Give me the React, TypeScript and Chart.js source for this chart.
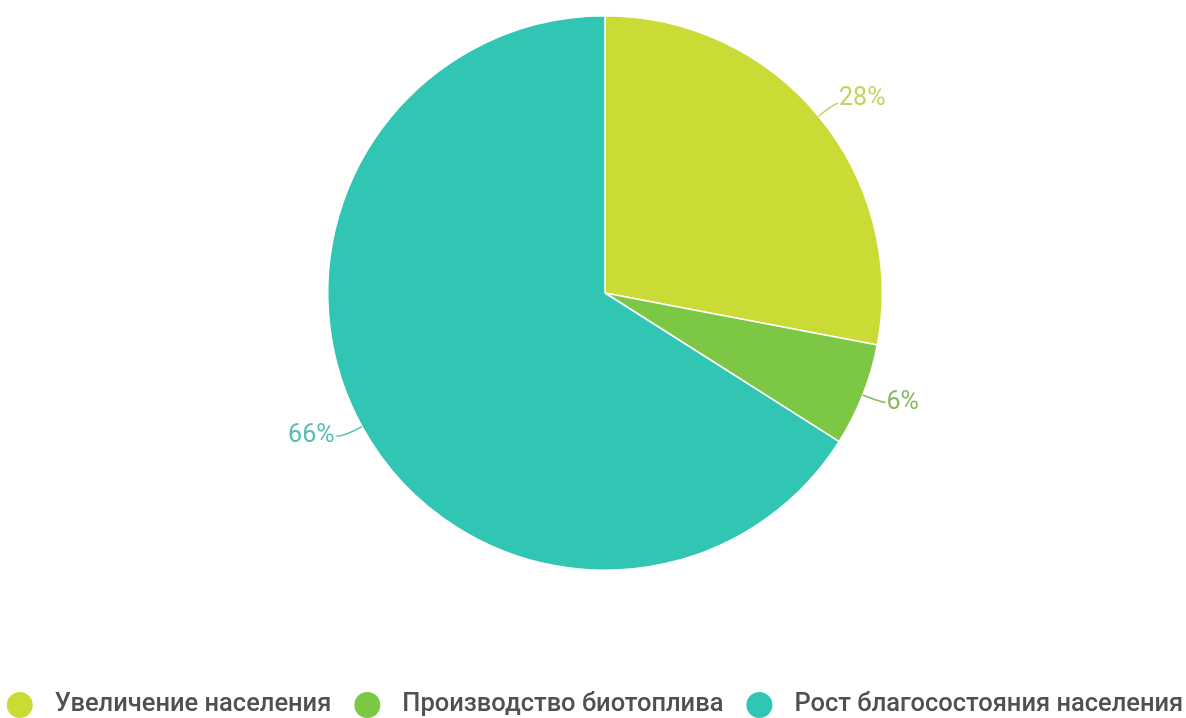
import React, { useEffect, useRef } from "react";
import { Chart, registerables } from "chart.js";

Chart.register(...registerables);

const categories = ["Увеличение населения", "Производство биотоплива", "Рост благосостояния населения"];
const values = [28, 6, 66];
const colors = ["#cbdb36", "#7cc743", "#31c6b4"];
const labelColors = ["#c3d45e", "#86b95c", "#56bdb1"];

const FONT = "Roboto, 'Noto Sans', sans-serif";

const sliceLabels = {
  id: "sliceLabels",
  afterDatasetsDraw(chart: any) {
    const ctx = chart.ctx;
    const meta = chart.getDatasetMeta(0);
    const total = values.reduce((a, b) => a + b, 0);
    ctx.save();
    meta.data.forEach((arc: any, i: number) => {
      const { x, y, startAngle, endAngle, outerRadius } = arc.getProps(["x", "y", "startAngle", "endAngle", "outerRadius"], true);
      const mid = (startAngle + endAngle) / 2;
      const cos = Math.cos(mid);
      const sin = Math.sin(mid);
      const sx = x + cos * outerRadius;
      const sy = y + sin * outerRadius;
      const ex = x + cos * (outerRadius + 20);
      const ey = y + sin * (outerRadius + 20);
      const right = cos >= 0;
      const hx = ex + (right ? 4 : -8);
      const hy = ey;
      ctx.strokeStyle = labelColors[i];
      ctx.lineWidth = 1.5;
      ctx.beginPath();
      ctx.moveTo(sx, sy);
      ctx.quadraticCurveTo(ex, ey, hx, hy);
      ctx.stroke();
      ctx.fillStyle = labelColors[i];
      ctx.font = `400 25px ${FONT}`;
      ctx.textBaseline = "middle";
      ctx.textAlign = right ? "left" : "right";
      const pct = Math.round((values[i] / total) * 100) + "%";
      ctx.fillText(pct, hx + (right ? 1 : -2), hy - (sin < 0 ? 5 : 0));
    });
    ctx.restore();
  },
};

const bottomLegend = {
  id: "bottomLegend",
  afterDraw(chart: any) {
    const ctx = chart.ctx;
    ctx.save();
    ctx.font = `500 25.5px ${FONT}`;
    const r = 13;
    const gapText = 22;
    const gapItem = 23;
    const widths = categories.map((c) => ctx.measureText(c).width);
    const total = widths.reduce((a, b) => a + b, 0) + categories.length * (2 * r + gapText) + (categories.length - 1) * gapItem;
    let x = chart.width / 2 + 2 - total / 2;
    const cy = 705;
    categories.forEach((c, i) => {
      ctx.fillStyle = colors[i];
      ctx.beginPath();
      ctx.arc(x + r, cy, r, 0, Math.PI * 2);
      ctx.fill();
      x += 2 * r + gapText;
      ctx.fillStyle = "#505050";
      ctx.textBaseline = "middle";
      ctx.textAlign = "left";
      ctx.fillText(c, x, cy);
      x += widths[i] + gapItem;
    });
    ctx.restore();
  },
};

export default function App() {
  const ref = useRef<HTMLCanvasElement>(null);
  useEffect(() => {
    document.body.style.margin = "0";
    const chart = new Chart(ref.current as HTMLCanvasElement, {
      type: "pie",
      data: {
        labels: categories,
        datasets: [
          {
            data: values,
            backgroundColor: colors,
            borderColor: "#ffffff",
            borderWidth: 1.5,
          },
        ],
      },
      options: {
        responsive: false,
        devicePixelRatio: 1,
        animation: false,
        layout: { padding: { left: 24, right: 0, top: 15, bottom: 147 } },
        plugins: {
          legend: { display: false },
          tooltip: { enabled: false },
        },
      },
      plugins: [sliceLabels, bottomLegend],
    });
    return () => chart.destroy();
  }, []);
  return (
    <div style={{ width: 1186, height: 718, background: "#fff" }}>
      <canvas ref={ref} width={1186} height={718} />
    </div>
  );
}
